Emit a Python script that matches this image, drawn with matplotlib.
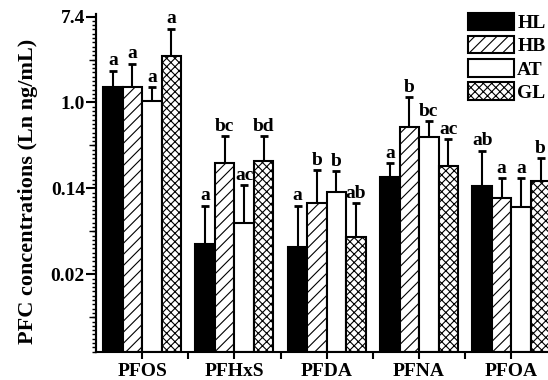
"""PFC concentrations by tissue, ln scale, grouped bars with one-sided error bars."""
import matplotlib
matplotlib.use("Agg")
import matplotlib.pyplot as plt
from matplotlib.patches import Patch
from matplotlib.ticker import MultipleLocator
import numpy as np

plt.rcParams.update({
    "font.family": ["Liberation Serif", "DejaVu Serif"],
    "font.weight": "bold",
    "axes.labelweight": "bold",
    "font.size": 14,
    "hatch.linewidth": 0.8,
})

groups = ["PFOS", "PFHxS", "PFDA", "PFNA", "PFOA"]
series = ["HL", "HB", "AT", "GL"]

# means in ln(ng/mL)
hl = [0.35, -3.30, -3.37, -1.74, -1.95]
hb = [0.37, -1.40, -2.35, -0.58, -2.23]
at = [0.03, -2.81, -2.09, -0.81, -2.44]
gl = [1.09, -1.37, -3.14, -1.49, -1.84]

# upper error (ln units)
hl_err = [0.39, 0.90, 0.97, 0.32, 0.83]
hb_err = [0.53, 0.61, 0.77, 0.70, 0.46]
at_err = [0.32, 0.88, 0.49, 0.37, 0.67]
gl_err = [0.63, 0.58, 0.79, 0.63, 0.54]

hl_sig = ["a", "a", "a", "a", "ab"]
hb_sig = ["a", "bc", "b", "b", "a"]
at_sig = ["a", "ac", "b", "bc", "a"]
gl_sig = ["a", "bd", "ab", "ac", "b"]

ytick_vals = [-4, -2, 0, 2]
ytick_text = ["0.02", "0.14", "1.0", "7.4"]
y_lo, y_hi = -5.81, 2.06

styles = [
    dict(facecolor="black", hatch=None),
    dict(facecolor="white", hatch="///"),
    dict(facecolor="white", hatch=None),
    dict(facecolor="white", hatch="xxxx"),
]

fig = plt.figure(figsize=(5.48, 3.80), dpi=100)
ax = fig.add_axes([96 / 548, 28 / 380, 461.5 / 548, 338 / 380])

x = np.arange(len(groups))
w = 0.211
data = [(hl, hl_err, hl_sig), (hb, hb_err, hb_sig), (at, at_err, at_sig), (gl, gl_err, gl_sig)]
for i, ((vals, errs, sigs), st) in enumerate(zip(data, styles)):
    pos = x + (i - 1.5) * w
    vals = np.array(vals)
    errs = np.array(errs)
    ax.bar(pos, vals - y_lo, bottom=y_lo, width=w, edgecolor="black",
           linewidth=1.5, zorder=2, **st)
    ax.errorbar(pos, vals, yerr=[np.zeros_like(errs), errs], fmt="none",
                ecolor="black", elinewidth=1.5, capsize=3, capthick=2, zorder=1)
    for p, top, s in zip(pos, vals + errs, sigs):
        ax.annotate(s, (p, top), xytext=(0, 1), textcoords="offset points",
                    ha="center", va="bottom", fontsize=14)

ax.set_xlim(-0.5, len(groups) - 0.5)
ax.set_ylim(y_lo, y_hi)
ax.set_xticks(x, groups)
ax.set_xticks(x[:-1] + 0.5, minor=True)
ax.set_yticks(ytick_vals, ytick_text)
ax.yaxis.set_minor_locator(MultipleLocator(0.1))
ax.tick_params(axis="x", which="both", length=5, width=1.5, pad=3)
ax.tick_params(axis="y", which="major", length=7, width=1.5, pad=1)
ax.tick_params(axis="y", which="minor", length=3, width=1)

sec = ax.secondary_yaxis("left")
sec.set_yticks([-5, -3, -1, 1], ["", "", "", ""])
sec.tick_params(length=5, width=1)
sec.spines["left"].set_linewidth(1.5)

for side in ("top", "right"):
    ax.spines[side].set_visible(False)
for side in ("left", "bottom"):
    ax.spines[side].set_linewidth(1.5)

ax.set_ylabel("PFC concentrations (Ln ng/mL)", fontsize=16)
ax.yaxis.set_label_coords(-0.125, 0.475)

handles = [Patch(edgecolor="black", linewidth=1.5, **st) for st in styles]
fig.legend(handles, series, loc="upper left", bbox_to_anchor=(458 / 548, 1 - 3 / 380),
           frameon=False, borderpad=0, handlelength=2.4, handleheight=1.0,
           handletextpad=0.15, labelspacing=0.2, fontsize=14)

fig.savefig("out.png", dpi=100)
